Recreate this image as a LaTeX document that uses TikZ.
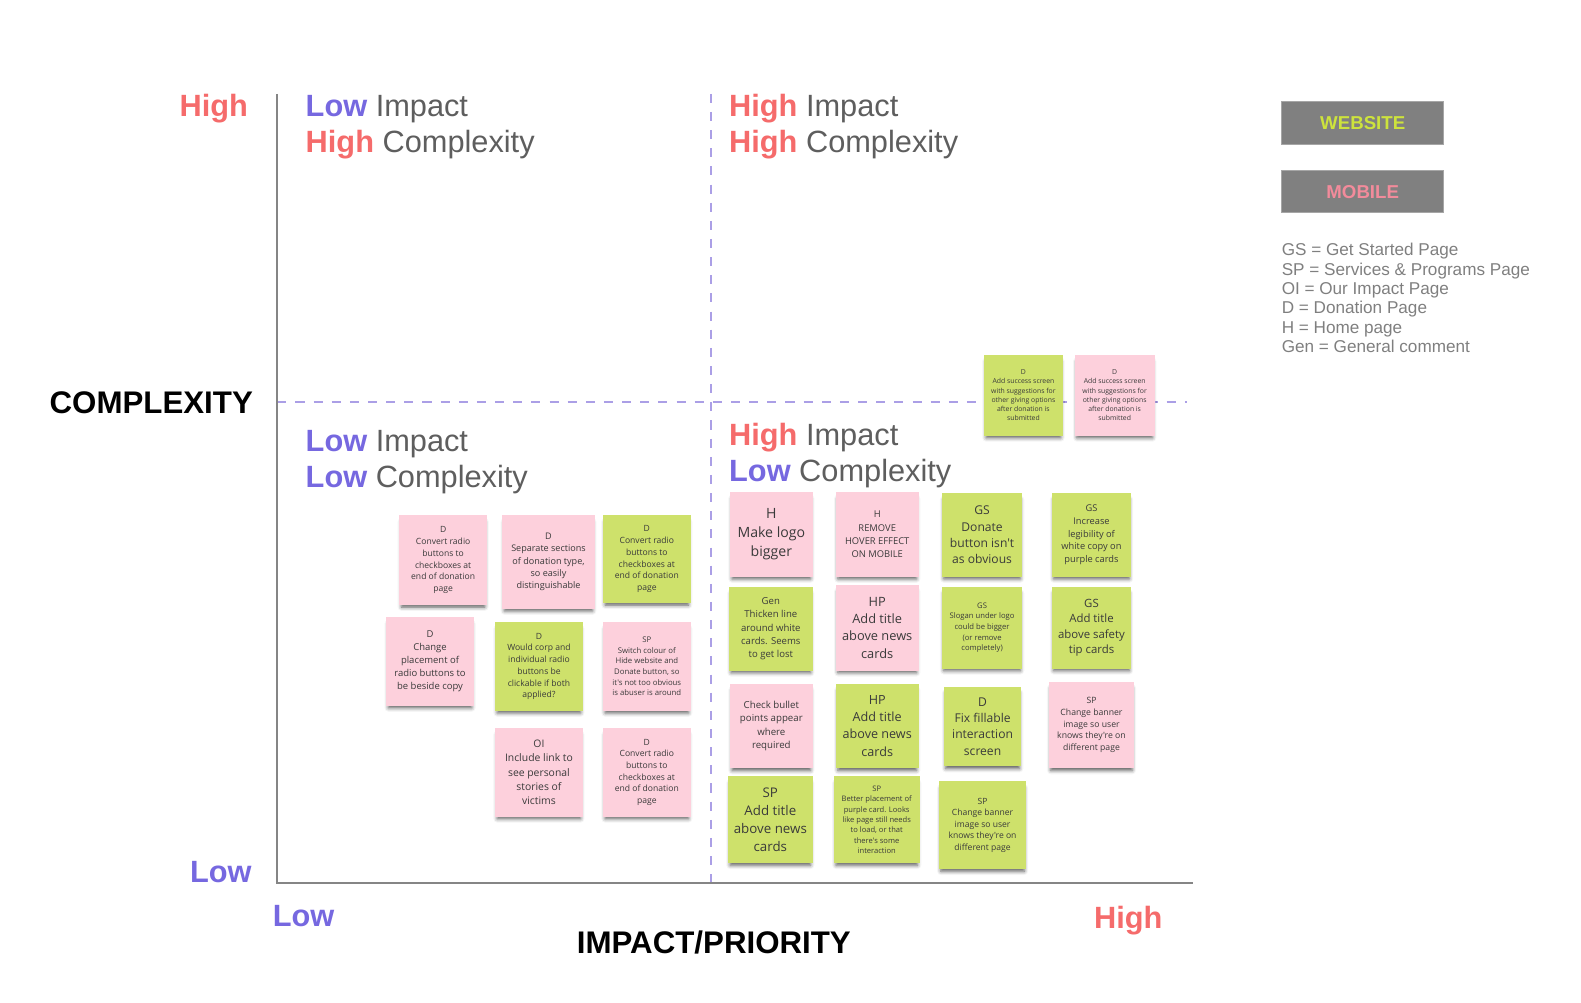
\documentclass[tikz,border=0pt]{standalone}
\usepackage{fontspec}
\setmainfont{Liberation Sans}
\newfontfamily\notefont{Open Sans}
\usetikzlibrary{shadows.blur}
\definecolor{hiRed}{HTML}{F56B6B}
\definecolor{loPurple}{HTML}{7668E0}
\definecolor{headGray}{HTML}{5E5E5E}
\definecolor{axisGray}{HTML}{858585}
\definecolor{dashLav}{HTML}{AB9FE6}
\definecolor{notePink}{HTML}{FDD0DC}
\definecolor{noteGreen}{HTML}{CEE16B}
\definecolor{noteText}{HTML}{3A3A3A}
\definecolor{legGray}{HTML}{808080}
\definecolor{legEdge}{HTML}{A6A6A6}
\definecolor{legText}{HTML}{7F7F7F}
\definecolor{webGreen}{HTML}{CDE33C}
\definecolor{mobPink}{HTML}{F28B9B}
\newcommand\hdfont{\fontsize{30.5}{35}\selectfont}
\newcommand\HI{\textcolor{hiRed}{\bfseries High}}
\newcommand\LO{\textcolor{loPurple}{\bfseries Low}}
\newcommand\stk[9]{%
  \node[sticky, fill=#6, minimum width={(#4-#2)*1pt}, minimum height={(#5-#3)*1pt},
    font={\notefont\fontsize{#7}{#8}\selectfont}]
    (#1) at ({(#2+#4)/2},{-(#3+#5)/2}) {#9};}
\begin{document}
\begin{tikzpicture}[x=1pt,y=1pt,
  heading/.style={anchor=base west, inner sep=0pt, text=headGray, font=\hdfont},
  axislabel/.style={anchor=base, inner sep=0pt, font=\hdfont},
  sticky/.style={inner sep=2pt, align=center, text=noteText,
    blur shadow={shadow xshift=0pt, shadow yshift=-4.5pt, shadow blur radius=4pt, shadow opacity=65, shadow scale=0.95}},
  legbox/.style={draw=legEdge, line width=0.8pt, fill=legGray, minimum width=161pt, minimum height=42pt, font=\fontsize{18.5}{22}\selectfont\bfseries},
  legline/.style={anchor=base west, inner sep=0pt, text=legText, font=\fontsize{17}{19}\selectfont},
  dashln/.style={dashLav, line width=2pt, dash pattern=on 9pt off 9pt},
  axisln/.style={axisGray, line width=2pt}]
\useasboundingbox (0,0) rectangle (1568,-994);
% axes
\coordinate (o) at (275,-876);
\coordinate (ytop) at (275,-93);
\coordinate (xend) at (1183,-876);
\coordinate (vt) at (705,-93);
\coordinate (vb) at (705,-876);
\coordinate (hl) at (275,-399);
\coordinate (hr) at (1177,-399);
\draw[dashln] (vt) -- (vb);
\draw[dashln] (hl) -- (hr);
\draw[axisln] (ytop) -- (o) -- (xend);
% axis labels
\node[axislabel, text=hiRed] (yhigh) at (212,-116) {\bfseries High};
\node[axislabel, text=loPurple] (ylow) at (219,-875) {\bfseries Low};
\node[axislabel, font=\fontsize{31}{35}\selectfont] (ylab) at (150,-410) {\bfseries COMPLEXITY};
\node[axislabel, text=loPurple] (xlow) at (301,-919) {\bfseries Low};
\node[axislabel, text=hiRed] (xhigh) at (1119,-921) {\bfseries High};
\node[axislabel, font=\fontsize{31}{35}\selectfont] (xlab) at (708,-946) {\bfseries IMPACT/PRIORITY};
% quadrant headings
\node[heading] (q1a) at (303,-116) {\LO{} Impact};
\node[heading] (q1b) at (303,-151) {\HI{} Complexity};
\node[heading] (q2a) at (723,-116) {\HI{} Impact};
\node[heading] (q2b) at (723,-151) {\HI{} Complexity};
\node[heading] (q3a) at (303,-448) {\LO{} Impact};
\node[heading] (q3b) at (303,-483) {\LO{} Complexity};
\node[heading] (q4a) at (723,-442) {\HI{} Impact};
\node[heading] (q4b) at (723,-478) {\LO{} Complexity};
% legend
\node[legbox, text=webGreen] (web) at (1351.5,-122) {WEBSITE};
\node[legbox, text=mobPink] (mob) at (1351.5,-190) {MOBILE};
\node[legline] (l1) at (1271,-253) {GS = Get Started Page};
\node[legline] (l2) at (1271,-273) {SP = Services \& Programs Page};
\node[legline] (l3) at (1271,-292) {OI = Our Impact Page};
\node[legline] (l4) at (1271,-311) {D = Donation Page};
\node[legline] (l5) at (1271,-331) {H = Home page};
\node[legline] (l6) at (1271,-350) {Gen = General comment};
% top-right stickies
\stk{s24}{976}{352}{1054}{432}{noteGreen}{6.8}{9.2}{D\\Add success screen\\with suggestions for\\other giving options\\after donation is\\submitted}
\stk{s25}{1066}{352}{1145}{432}{notePink}{6.8}{9.2}{D\\Add success screen\\with suggestions for\\other giving options\\after donation is\\submitted}
% left cluster
\stk{s1}{396}{511}{483}{600}{notePink}{8.5}{11.7}{D\\Convert radio\\buttons to\\checkboxes at\\end of donation\\page}
\stk{s2}{498}{511}{590}{604}{notePink}{9}{12.2}{D\\Separate sections\\of donation type,\\so easily\\distinguishable}
\stk{s3}{598}{511}{685}{598}{noteGreen}{8.5}{11.8}{D\\Convert radio\\buttons to\\checkboxes at\\end of donation\\page}
\stk{s4}{383}{612}{470}{700}{notePink}{9.4}{12.8}{D\\Change\\placement of\\radio buttons to\\be beside copy}
\stk{s5}{491}{617}{578}{705}{noteGreen}{8.5}{11.6}{D\\Would corp and\\individual radio\\buttons be\\clickable if both\\applied?}
\stk{s6}{598}{617}{685}{705}{notePink}{7.7}{10.5}{SP\\Switch colour of\\Hide website and\\Donate button, so\\it's not too obvious\\is abuser is around}
\stk{s7}{491}{722}{578}{810}{notePink}{10.3}{14}{OI\\Include link to\\see personal\\stories of\\victims}
\stk{s8}{598}{722}{685}{810}{notePink}{8.5}{11.6}{D\\Convert radio\\buttons to\\checkboxes at\\end of donation\\page}
% right cluster row 1
\stk{s9}{724}{488}{806}{572}{notePink}{14}{19}{H\\Make logo\\bigger}
\stk{s10}{829}{488}{911}{572}{notePink}{9.3}{13.2}{H\\REMOVE\\HOVER EFFECT\\ON MOBILE}
\stk{s11}{934}{489}{1014}{572}{noteGreen}{12}{16.3}{GS\\Donate\\button isn't\\as obvious}
\stk{s12}{1043}{489}{1122}{572}{noteGreen}{9.2}{12.5}{GS\\Increase\\legibility of\\white copy on\\purple cards}
% row 2
\stk{s13}{723}{582}{806}{665}{noteGreen}{9.5}{13}{Gen\\Thicken line\\around white\\cards. Seems\\to get lost}
\stk{s14}{829}{580}{911}{665}{notePink}{12.7}{17.3}{HP\\Add title\\above news\\cards}
\stk{s15}{934}{582}{1014}{663}{noteGreen}{7.6}{10.5}{GS\\Slogan under logo\\could be bigger\\(or remove\\completely)}
\stk{s16}{1043}{582}{1122}{663}{noteGreen}{11.3}{15.3}{GS\\Add title\\above safety\\tip cards}
% row 3
\stk{s17}{724}{678}{806}{762}{notePink}{9.6}{13}{Check bullet\\points appear\\where\\required}
\stk{s18}{829}{678}{911}{762}{noteGreen}{12.5}{17}{HP\\Add title\\above news\\cards}
\stk{s19}{936}{681}{1013}{760}{noteGreen}{12}{16.3}{D\\Fix fillable\\interaction\\screen}
\stk{s20}{1040}{676}{1125}{762}{notePink}{8.6}{11.7}{SP\\Change banner\\image so user\\knows they're on\\different page}
% row 4
\stk{s21}{722}{770}{806}{856}{noteGreen}{13.2}{18}{SP\\Add title\\above news\\cards}
\stk{s22}{827}{770}{912}{856}{noteGreen}{7.5}{10.2}{SP\\Better placement of\\purple card. Looks\\like page still needs\\to load, or that\\there's some\\interaction}
\stk{s23}{931}{775}{1018}{862}{noteGreen}{8.5}{11.5}{SP\\Change banner\\image so user\\knows they're on\\different page}
\end{tikzpicture}
\end{document}
